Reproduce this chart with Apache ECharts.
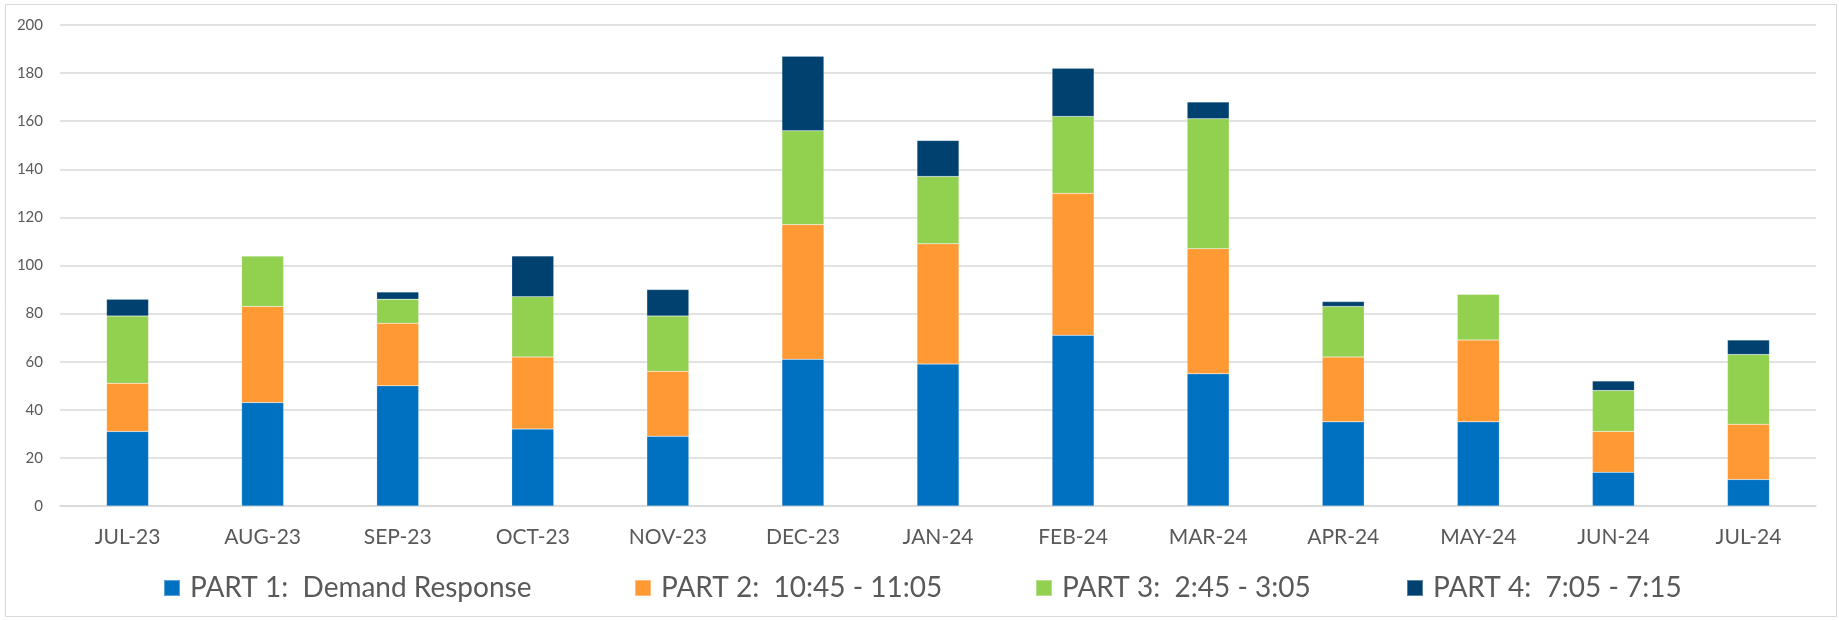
<!DOCTYPE html>
<html>
<head>
<meta charset="utf-8">
<script src="https://cdn.jsdelivr.net/npm/echarts@6/dist/echarts.min.js"></script>
<style>
  html, body { margin: 0; padding: 0; background: #fff; }
  #chart { width: 1839px; height: 620px; }
</style>
</head>
<body>
<div id="chart"></div>
<script>
// Monthly counts per program part, stacked
const months = ['JUL-23', 'AUG-23', 'SEP-23', 'OCT-23', 'NOV-23', 'DEC-23', 'JAN-24',
                'FEB-24', 'MAR-24', 'APR-24', 'MAY-24', 'JUN-24', 'JUL-24'];
const seriesNames = ['PART 1:  Demand Response', 'PART 2:  10:45 - 11:05',
                     'PART 3:  2:45 - 3:05', 'PART 4:  7:05 - 7:15'];
const part1 = [31, 43, 50, 32, 29, 61, 59, 71, 55, 35, 35, 14, 11];
const part2 = [20, 40, 26, 30, 27, 56, 50, 59, 52, 27, 34, 17, 23];
const part3 = [28, 21, 10, 25, 23, 39, 28, 32, 54, 21, 19, 17, 29];
const part4 = [7, 0, 3, 17, 11, 31, 15, 20, 7, 2, 0, 4, 6];
const yTicks = { min: 0, max: 200, interval: 20 };

const colors = ['#0070C0', '#FF9933', '#92D050', '#00416F'];
const fontFamily = 'Lato, "Open Sans", sans-serif';
const textColor = '#595959';
// left edge of each legend entry
const legendLefts = [163, 634, 1035, 1406];

const chart = echarts.init(document.getElementById('chart'), null, { renderer: 'canvas' });

const seriesData = [part1, part2, part3, part4];

chart.setOption({
  animation: false,
  backgroundColor: '#ffffff',
  graphic: [{
    type: 'rect',
    shape: { x: 5.5, y: 4.5, width: 1831, height: 612 },
    style: { fill: 'none', stroke: '#D9D9D9', lineWidth: 1 },
    silent: true
  }],
  grid: { left: 60, right: 23, top: 25, bottom: 114, containLabel: false },
  legend: seriesNames.map((name, i) => ({
    left: legendLefts[i],
    top: 574,
    padding: 0,
    itemWidth: 16,
    itemHeight: 16,
    icon: 'rect',
    textStyle: { fontFamily, fontSize: 28, color: textColor, padding: [0, 0, 0, 5] },
    data: [name]
  })),
  xAxis: {
    type: 'category',
    data: months,
    axisLine: { lineStyle: { color: '#D9D9D9', width: 1.5 } },
    axisTick: { show: false },
    axisLabel: { fontFamily, fontSize: 21, color: textColor, margin: 21 }
  },
  yAxis: {
    type: 'value',
    min: yTicks.min,
    max: yTicks.max,
    interval: yTicks.interval,
    axisLine: { show: false },
    axisTick: { show: false },
    splitLine: { lineStyle: { color: '#D9D9D9', width: 1.5 } },
    axisLabel: { fontFamily, fontSize: 15, color: textColor, margin: 17 }
  },
  series: seriesNames.map((name, i) => ({
    name,
    type: 'bar',
    stack: 'total',
    barWidth: 42,
    data: seriesData[i],
    itemStyle: { color: colors[i], borderColor: 'rgba(255,255,255,0.35)', borderWidth: 0.5 }
  }))
});
</script>
</body>
</html>
